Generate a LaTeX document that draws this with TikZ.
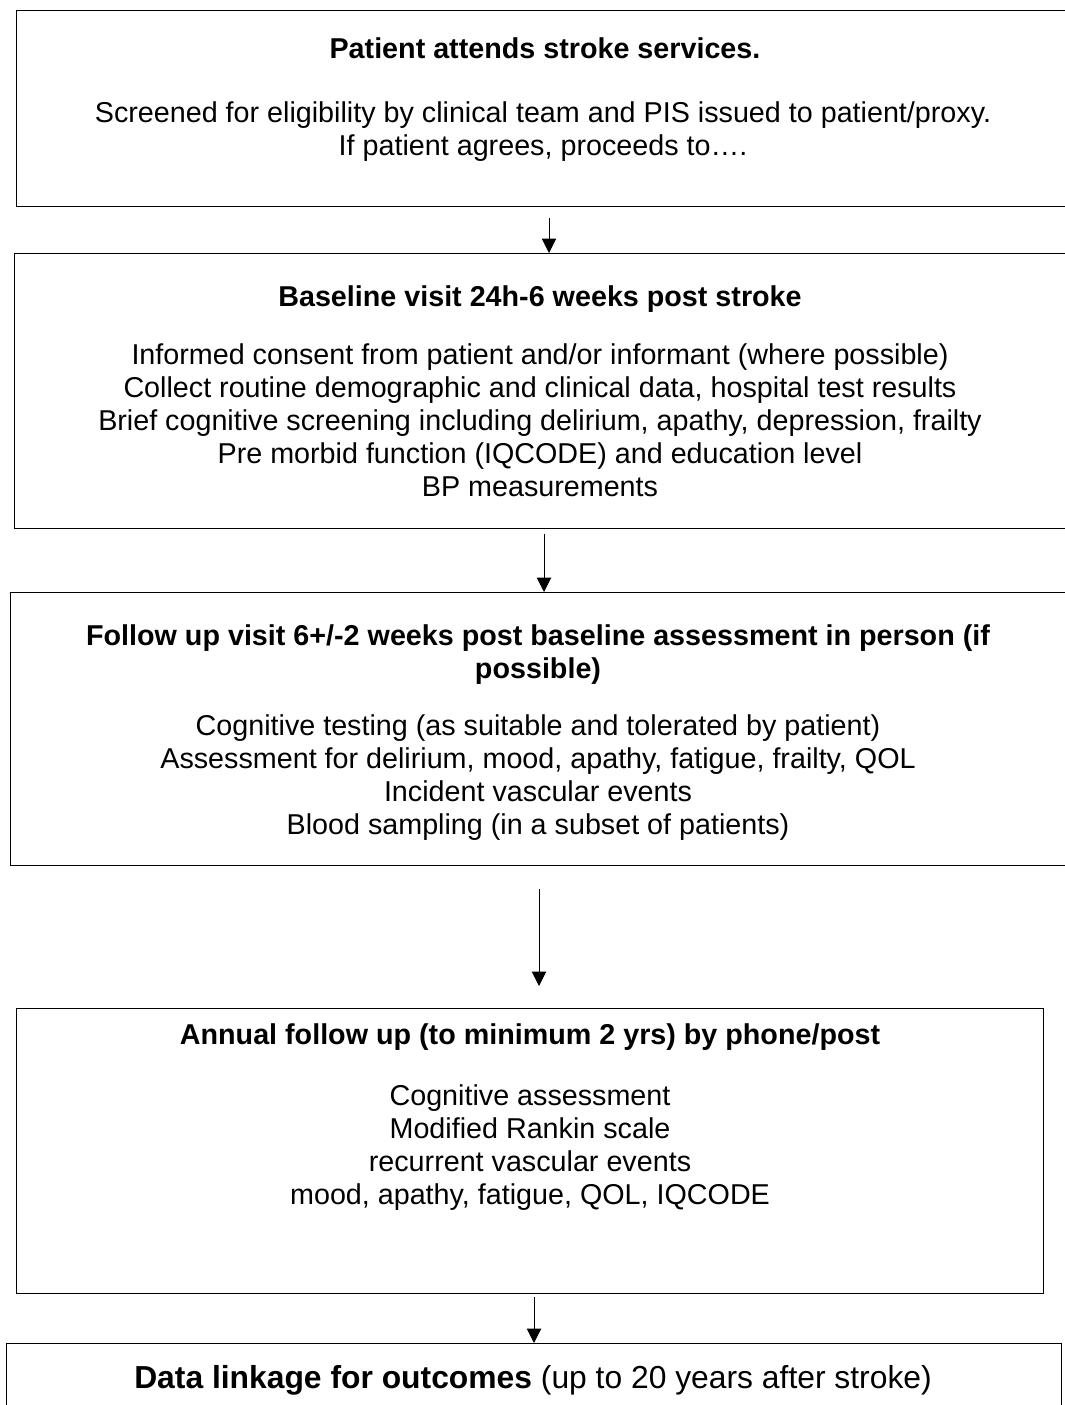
\documentclass[tikz,border=0pt]{standalone}
\usepackage{fontspec}
\setmainfont{Liberation Sans}
\usetikzlibrary{arrows.meta}

\newlength\pix
\setlength\pix{0.418pt}

\tikzset{
  box/.style={draw,line width=0.6pt,inner sep=0pt,anchor=north west},
  headtext/.style={align=center,font=\fontsize{12}{13.8}\selectfont\bfseries,inner sep=0pt},
  bodytext/.style={align=center,font=\fontsize{12}{13.8}\selectfont,inner sep=0pt},
  flow/.style={-{Triangle[width=6pt,length=6pt]},line width=0.4pt}
}

\begin{document}
\begin{tikzpicture}[x=0.418pt,y=-0.418pt]
  \useasboundingbox (0,0) rectangle (1064,1405);
  % boxes
  \node[box,minimum width=1080*\pix,minimum height=196*\pix] (patient) at (16,10) {};
  \node[box,minimum width=1080*\pix,minimum height=275*\pix] (baseline) at (14,253) {};
  \node[box,minimum width=1080*\pix,minimum height=273*\pix] (followup) at (10,592) {};
  \node[box,minimum width=1027*\pix,minimum height=285*\pix] (annual) at (16,1008) {};
  \node[box,minimum width=1055*\pix,minimum height=100*\pix] (linkage) at (6,1343) {};
  % texts
  \node[headtext] (patientT) at (545,48) {Patient attends stroke services.};
  \node[bodytext] (patientB) at (543,132) {Screened for eligibility by clinical team and PIS issued to patient/proxy.\\
    If patient agrees, proceeds to….};
  \node[headtext] (baselineT) at (540,299) {Baseline visit 24h-6 weeks post stroke};
  \node[bodytext] (baselineB) at (540,420) {Informed consent from patient and/or informant (where possible)\\
    Collect routine demographic and clinical data, hospital test results\\
    Brief cognitive screening including delirium, apathy, depression, frailty\\
    Pre morbid function (IQCODE) and education level\\
    BP measurements};
  \node[headtext] (followupT) at (538,655) {Follow up visit 6+/-2 weeks post baseline assessment in person (if\\
    possible)};
  \node[bodytext] (followupB) at (538,778) {Cognitive testing (as suitable and tolerated by patient)\\
    Assessment for delirium, mood, apathy, fatigue, frailty, QOL\\
    Incident vascular events\\
    Blood sampling (in a subset of patients)};
  \node[headtext] (annualT) at (530,1037) {Annual follow up (to minimum 2 yrs) by phone/post};
  \node[bodytext] (annualB) at (530,1148) {Cognitive assessment\\
    Modified Rankin scale\\
    recurrent vascular events\\
    mood, apathy, fatigue, QOL, IQCODE};
  \node[bodytext,font=\fontsize{13.3}{15}\selectfont] (linkageT) at (533,1380) {\textbf{Data linkage for outcomes} (up to 20 years after stroke)};
  % arrows
  \coordinate (a1) at (549,218);
  \coordinate (a2) at (544,534);
  \coordinate (a3) at (539,889);
  \coordinate (a3end) at (539,986);
  \coordinate (a4) at (534,1297);
  \draw[flow] (a1) -- (a1 |- baseline.north);
  \draw[flow] (a2) -- (a2 |- followup.north);
  \draw[flow] (a3) -- (a3end);
  \draw[flow] (a4) -- (a4 |- linkage.north);
\end{tikzpicture}
\end{document}
